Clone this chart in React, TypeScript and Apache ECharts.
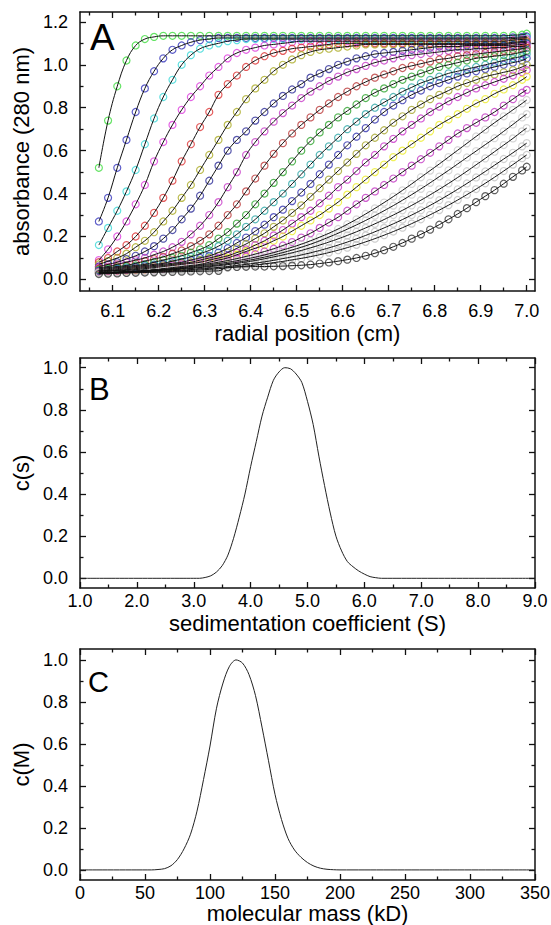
import { useEffect, useRef } from "react";
import * as echarts from "echarts";

const FONT = "'Liberation Sans', Arial, Helvetica, sans-serif";

// ---------- Panel A : radial scans ----------
const R = [
  6.07, 6.09, 6.11, 6.13, 6.15, 6.17, 6.19, 6.21, 6.23, 6.25, 6.27, 6.29,
  6.31, 6.33, 6.35, 6.37, 6.39, 6.41, 6.43, 6.45, 6.47, 6.49, 6.51, 6.53,
  6.55, 6.57, 6.59, 6.61, 6.63, 6.65, 6.67, 6.69, 6.71, 6.73, 6.75, 6.77,
  6.79, 6.81, 6.83, 6.85, 6.87, 6.89, 6.91, 6.93, 6.95, 6.97, 6.99, 7.0,
];

const SCAN01 = [
  0.52, 0.74, 0.9, 1.02, 1.09, 1.12, 1.13, 1.135, 1.135, 1.135, 1.135, 1.135,
  1.135, 1.135, 1.135, 1.135, 1.135, 1.135, 1.135, 1.135, 1.135, 1.135, 1.135, 1.135,
  1.135, 1.135, 1.135, 1.135, 1.135, 1.135, 1.135, 1.135, 1.135, 1.135, 1.135, 1.135,
  1.135, 1.135, 1.135, 1.135, 1.135, 1.135, 1.135, 1.135, 1.135, 1.138, 1.14, 1.145,
];
const SCAN02 = [
  0.27, 0.38, 0.52, 0.65, 0.78, 0.89, 0.97, 1.03, 1.07, 1.09, 1.105, 1.115,
  1.12, 1.125, 1.125, 1.125, 1.125, 1.125, 1.125, 1.125, 1.125, 1.125, 1.125, 1.125,
  1.125, 1.125, 1.125, 1.125, 1.125, 1.125, 1.125, 1.125, 1.125, 1.125, 1.125, 1.125,
  1.125, 1.125, 1.125, 1.125, 1.125, 1.125, 1.125, 1.125, 1.125, 1.128, 1.13, 1.132,
];
const SCAN03 = [
  0.16, 0.24, 0.32, 0.41, 0.51, 0.63, 0.75, 0.85, 0.93, 1.0, 1.045, 1.075,
  1.09, 1.1, 1.11, 1.115, 1.12, 1.12, 1.12, 1.12, 1.12, 1.12, 1.12, 1.12,
  1.12, 1.12, 1.12, 1.12, 1.12, 1.12, 1.12, 1.12, 1.12, 1.12, 1.12, 1.12,
  1.12, 1.12, 1.12, 1.12, 1.12, 1.12, 1.12, 1.12, 1.12, 1.122, 1.125, 1.127,
];
const SCAN04 = [
  0.09, 0.14, 0.2, 0.27, 0.35, 0.44, 0.55, 0.64, 0.72, 0.79, 0.85, 0.9,
  0.95, 0.99, 1.03, 1.055, 1.07, 1.08, 1.09, 1.095, 1.1, 1.105, 1.11, 1.11,
  1.11, 1.11, 1.11, 1.11, 1.11, 1.11, 1.11, 1.11, 1.11, 1.11, 1.11, 1.11,
  1.11, 1.11, 1.11, 1.11, 1.11, 1.11, 1.11, 1.11, 1.11, 1.115, 1.118, 1.12,
];
const SCAN05 = [
  0.08, 0.1, 0.13, 0.16, 0.2, 0.25, 0.31, 0.38, 0.46, 0.55, 0.63, 0.71,
  0.78, 0.86, 0.91, 0.95, 0.99, 1.02, 1.04, 1.055, 1.065, 1.075, 1.08, 1.085,
  1.09, 1.095, 1.1, 1.1, 1.1, 1.1, 1.1, 1.1, 1.1, 1.1, 1.1, 1.1,
  1.1, 1.1, 1.1, 1.1, 1.1, 1.1, 1.1, 1.1, 1.1, 1.105, 1.108, 1.11,
];
const SCAN06 = [
  0.07, 0.085, 0.1, 0.12, 0.15, 0.18, 0.22, 0.27, 0.32, 0.38, 0.44, 0.51,
  0.58, 0.65, 0.72, 0.78, 0.84, 0.89, 0.93, 0.97, 1.0, 1.025, 1.045, 1.06,
  1.07, 1.075, 1.08, 1.085, 1.09, 1.095, 1.095, 1.095, 1.095, 1.095, 1.095, 1.095,
  1.095, 1.095, 1.095, 1.095, 1.095, 1.095, 1.095, 1.095, 1.095, 1.1, 1.103, 1.105,
];
const SCAN07 = [
  0.06, 0.07, 0.08, 0.095, 0.11, 0.13, 0.155, 0.19, 0.23, 0.28, 0.33, 0.39,
  0.46, 0.53, 0.6, 0.65, 0.69, 0.74, 0.78, 0.82, 0.855, 0.885, 0.91, 0.94,
  0.96, 0.98, 1.0, 1.015, 1.03, 1.04, 1.05, 1.055, 1.06, 1.065, 1.07, 1.075,
  1.08, 1.085, 1.085, 1.085, 1.09, 1.09, 1.09, 1.09, 1.09, 1.092, 1.095, 1.1,
];
const SCAN08 = [
  0.055, 0.06, 0.07, 0.08, 0.09, 0.1, 0.115, 0.13, 0.15, 0.175, 0.21, 0.25,
  0.3, 0.36, 0.43, 0.5, 0.58, 0.64, 0.69, 0.735, 0.775, 0.81, 0.845, 0.875,
  0.9, 0.925, 0.945, 0.965, 0.98, 0.995, 1.01, 1.02, 1.03, 1.04, 1.045, 1.05,
  1.055, 1.06, 1.065, 1.07, 1.07, 1.075, 1.075, 1.08, 1.08, 1.085, 1.085, 1.09,
];
const SCAN09 = [
  0.05, 0.055, 0.06, 0.065, 0.075, 0.085, 0.095, 0.105, 0.12, 0.135, 0.155, 0.18,
  0.21, 0.25, 0.3, 0.35, 0.41, 0.47, 0.53, 0.585, 0.635, 0.68, 0.72, 0.755,
  0.79, 0.82, 0.85, 0.875, 0.9, 0.92, 0.94, 0.955, 0.97, 0.985, 0.995, 1.005,
  1.015, 1.025, 1.03, 1.04, 1.045, 1.05, 1.055, 1.06, 1.065, 1.07, 1.075, 1.08,
];
const SCAN10 = [
  0.045, 0.05, 0.055, 0.06, 0.065, 0.07, 0.08, 0.09, 0.1, 0.11, 0.125, 0.14,
  0.16, 0.19, 0.22, 0.26, 0.3, 0.35, 0.4, 0.45, 0.5, 0.55, 0.6, 0.645,
  0.685, 0.72, 0.755, 0.785, 0.815, 0.845, 0.87, 0.89, 0.91, 0.93, 0.945, 0.96,
  0.975, 0.99, 1.0, 1.01, 1.02, 1.03, 1.035, 1.04, 1.045, 1.05, 1.06, 1.065,
];
const SCAN11 = [
  0.04, 0.045, 0.05, 0.055, 0.06, 0.065, 0.07, 0.075, 0.085, 0.095, 0.105, 0.12,
  0.135, 0.155, 0.18, 0.21, 0.245, 0.28, 0.32, 0.36, 0.4, 0.445, 0.49, 0.535,
  0.58, 0.62, 0.66, 0.7, 0.735, 0.77, 0.8, 0.825, 0.85, 0.875, 0.895, 0.915,
  0.93, 0.945, 0.96, 0.97, 0.98, 0.99, 1.0, 1.01, 1.02, 1.03, 1.04, 1.05,
];
const SCAN12 = [
  0.04, 0.042, 0.045, 0.05, 0.055, 0.06, 0.065, 0.07, 0.075, 0.08, 0.09, 0.1,
  0.11, 0.125, 0.145, 0.17, 0.195, 0.225, 0.255, 0.29, 0.325, 0.365, 0.405, 0.445,
  0.49, 0.535, 0.58, 0.625, 0.665, 0.705, 0.745, 0.78, 0.81, 0.835, 0.86, 0.88,
  0.9, 0.915, 0.93, 0.945, 0.96, 0.97, 0.98, 0.99, 1.0, 1.01, 1.02, 1.03,
];
const SCAN13 = [
  0.035, 0.04, 0.042, 0.045, 0.05, 0.055, 0.06, 0.065, 0.07, 0.075, 0.08, 0.09,
  0.1, 0.11, 0.125, 0.145, 0.165, 0.19, 0.215, 0.245, 0.275, 0.31, 0.345, 0.385,
  0.425, 0.465, 0.505, 0.545, 0.585, 0.625, 0.66, 0.695, 0.73, 0.76, 0.79, 0.815,
  0.84, 0.86, 0.88, 0.9, 0.915, 0.93, 0.945, 0.955, 0.965, 0.975, 0.99, 1.0,
];
const SCAN14 = [
  0.035, 0.037, 0.04, 0.042, 0.045, 0.05, 0.055, 0.06, 0.065, 0.07, 0.075, 0.08,
  0.09, 0.1, 0.11, 0.125, 0.14, 0.16, 0.18, 0.205, 0.23, 0.26, 0.29, 0.32,
  0.355, 0.39, 0.43, 0.465, 0.505, 0.545, 0.58, 0.62, 0.655, 0.69, 0.72, 0.75,
  0.78, 0.805, 0.83, 0.85, 0.87, 0.89, 0.905, 0.92, 0.935, 0.95, 0.965, 0.975,
];
const SCAN15 = [
  0.03, 0.032, 0.035, 0.037, 0.04, 0.042, 0.045, 0.05, 0.055, 0.06, 0.065, 0.07,
  0.08, 0.09, 0.1, 0.115, 0.13, 0.145, 0.16, 0.18, 0.2, 0.225, 0.25, 0.275,
  0.3, 0.33, 0.36, 0.395, 0.43, 0.465, 0.5, 0.535, 0.57, 0.6, 0.63, 0.66,
  0.69, 0.72, 0.745, 0.77, 0.795, 0.82, 0.84, 0.865, 0.885, 0.905, 0.93, 0.945,
];
const SCAN16 = [
  0.03, 0.031, 0.033, 0.035, 0.037, 0.04, 0.043, 0.047, 0.051, 0.056, 0.061, 0.067,
  0.073, 0.08, 0.088, 0.097, 0.107, 0.118, 0.13, 0.143, 0.158, 0.174, 0.195, 0.215,
  0.24, 0.265, 0.29, 0.32, 0.35, 0.38, 0.41, 0.44, 0.47, 0.5, 0.53, 0.56,
  0.59, 0.62, 0.65, 0.68, 0.705, 0.73, 0.755, 0.78, 0.81, 0.84, 0.87, 0.883,
];
const SCAN17 = [
  0.03, 0.031, 0.033, 0.035, 0.037, 0.039, 0.042, 0.045, 0.049, 0.053, 0.058, 0.063,
  0.068, 0.074, 0.08, 0.087, 0.095, 0.104, 0.114, 0.125, 0.137, 0.15, 0.164, 0.18,
  0.197, 0.215, 0.235, 0.257, 0.28, 0.305, 0.331, 0.358, 0.386, 0.415, 0.445, 0.476,
  0.507, 0.538, 0.57, 0.602, 0.634, 0.666, 0.698, 0.73, 0.76, 0.79, 0.82, 0.836,
];
const SCAN18 = [
  0.03, 0.031, 0.032, 0.034, 0.036, 0.038, 0.04, 0.043, 0.046, 0.05, 0.054, 0.058,
  0.063, 0.068, 0.074, 0.08, 0.087, 0.095, 0.104, 0.114, 0.125, 0.137, 0.15, 0.164,
  0.18, 0.197, 0.215, 0.234, 0.254, 0.275, 0.297, 0.32, 0.344, 0.369, 0.395, 0.422,
  0.45, 0.479, 0.508, 0.538, 0.568, 0.598, 0.628, 0.658, 0.69, 0.722, 0.755, 0.77,
];
const SCAN19 = [
  0.03, 0.031, 0.032, 0.034, 0.036, 0.038, 0.04, 0.042, 0.045, 0.048, 0.051, 0.055,
  0.059, 0.064, 0.069, 0.075, 0.081, 0.088, 0.096, 0.105, 0.114, 0.124, 0.135, 0.147,
  0.16, 0.174, 0.189, 0.205, 0.222, 0.24, 0.259, 0.279, 0.3, 0.322, 0.345, 0.369,
  0.394, 0.42, 0.447, 0.475, 0.504, 0.534, 0.564, 0.595, 0.626, 0.657, 0.69, 0.705,
];
const SCAN20 = [
  0.03, 0.031, 0.032, 0.033, 0.034, 0.035, 0.037, 0.039, 0.041, 0.043, 0.046, 0.049,
  0.052, 0.056, 0.06, 0.065, 0.07, 0.076, 0.082, 0.089, 0.097, 0.105, 0.114, 0.124,
  0.135, 0.147, 0.16, 0.174, 0.189, 0.205, 0.222, 0.24, 0.259, 0.279, 0.3, 0.322,
  0.345, 0.369, 0.394, 0.42, 0.447, 0.475, 0.503, 0.532, 0.561, 0.59, 0.62, 0.635,
];
const SCAN21 = [
  0.03, 0.03, 0.031, 0.032, 0.033, 0.034, 0.035, 0.036, 0.038, 0.04, 0.042, 0.044,
  0.047, 0.05, 0.054, 0.058, 0.062, 0.067, 0.072, 0.078, 0.084, 0.091, 0.098, 0.106,
  0.115, 0.125, 0.136, 0.148, 0.161, 0.175, 0.19, 0.206, 0.223, 0.241, 0.26, 0.28,
  0.301, 0.323, 0.346, 0.37, 0.395, 0.421, 0.448, 0.476, 0.505, 0.535, 0.565, 0.58,
];
const SCAN22 = [
  0.025, 0.027, 0.028, 0.03, 0.031, 0.032, 0.033, 0.034, 0.035, 0.036, 0.037, 0.038,
  0.039, 0.04, 0.057, 0.058, 0.059, 0.06, 0.06, 0.061, 0.062, 0.064, 0.066, 0.069,
  0.074, 0.079, 0.085, 0.092, 0.1, 0.11, 0.122, 0.136, 0.152, 0.17, 0.19, 0.21,
  0.232, 0.255, 0.28, 0.305, 0.332, 0.36, 0.388, 0.416, 0.446, 0.478, 0.508, 0.525,
];

const SCANS = [
  SCAN01, SCAN02, SCAN03, SCAN04, SCAN05, SCAN06, SCAN07, SCAN08, SCAN09, SCAN10, SCAN11,
  SCAN12, SCAN13, SCAN14, SCAN15, SCAN16, SCAN17, SCAN18, SCAN19, SCAN20, SCAN21, SCAN22,
];
const SCAN_COLORS = [
  "#3fdc3f", "#3434bb", "#3ad8d8", "#dd3ddd", "#dd3535", "#abab25", "#2e2e99", "#c83cc8",
  "#bb3a3a", "#2fa52f", "#2fa8a8", "#3535b0", "#a8a830", "#cc3acc", "#eeee30", "#c33ac3",
  "#cdcdcd", "#d0d0d0", "#cacaca", "#c6c6c6", "#c2c2c2", "#3a3a3a",
];

// ---------- Panel B : c(s) ----------
const S_VALUES = [
  1.0, 3.0, 3.1, 3.2, 3.3, 3.4, 3.5, 3.6, 3.7, 3.8, 3.9, 4.0, 4.1, 4.2, 4.3, 4.4, 4.5,
  4.6, 4.7, 4.8, 4.9, 5.0, 5.1, 5.2, 5.3, 5.4, 5.5, 5.6, 5.7, 5.8, 5.9, 6.0, 6.1, 6.2,
  6.3, 6.5, 9.0,
];
const CS_VALUES = [
  0.0, 0.0, 0.0, 0.004, 0.012, 0.03, 0.06, 0.11, 0.19, 0.29, 0.4, 0.53, 0.65, 0.77, 0.86,
  0.94, 0.98, 1.0, 0.995, 0.97, 0.93, 0.84, 0.73, 0.58, 0.44, 0.31, 0.2, 0.13, 0.08, 0.055,
  0.035, 0.02, 0.008, 0.003, 0.0, 0.0, 0.0,
];

// ---------- Panel C : c(M) ----------
const M_VALUES = [
  0, 55, 60, 65, 70, 75, 80, 85, 90, 95, 100, 105, 110, 115, 120, 125, 130, 135, 140,
  145, 150, 155, 160, 165, 170, 175, 180, 185, 190, 195, 200, 210, 350,
];
const CM_VALUES = [
  0.0, 0.0, 0.002, 0.006, 0.02, 0.05, 0.1, 0.17, 0.28, 0.43, 0.59, 0.77, 0.89, 0.97, 1.0,
  0.985, 0.93, 0.83, 0.68, 0.52, 0.36, 0.24, 0.15, 0.095, 0.06, 0.035, 0.018, 0.008,
  0.003, 0.001, 0.0, 0.0, 0.0,
];

// ---------- ticks ----------
const A_X_TICKS = [6.1, 6.2, 6.3, 6.4, 6.5, 6.6, 6.7, 6.8, 6.9, 7.0];
const A_X_MINOR = [6.05, 6.15, 6.25, 6.35, 6.45, 6.55, 6.65, 6.75, 6.85, 6.95];
const A_Y_TICKS = [0, 0.2, 0.4, 0.6, 0.8, 1.0, 1.2];
const A_Y_MINOR = [0.1, 0.3, 0.5, 0.7, 0.9, 1.1];
const B_X_TICKS = [1, 2, 3, 4, 5, 6, 7, 8, 9];
const B_X_MINOR = [1.5, 2.5, 3.5, 4.5, 5.5, 6.5, 7.5, 8.5];
const C_X_TICKS = [0, 50, 100, 150, 200, 250, 300, 350];
const C_X_MINOR = [25, 75, 125, 175, 225, 275, 325];
const UNIT_Y_TICKS = [0, 0.2, 0.4, 0.6, 0.8, 1.0];
const UNIT_Y_MINOR = [0.1, 0.3, 0.5, 0.7, 0.9];

const f1 = (v: number) => v.toFixed(1);
const f0 = (v: number) => String(Math.round(v));

type AxisSpec = {
  min: number;
  max: number;
  major: number[];
  minor: number[];
  fmt: (v: number) => string;
  name: string;
  margin: number;
  nameGap: number;
};

const LINE = { color: "#111", width: 1.5 };

function makeAxes(dim: "x" | "y", g: number, s: AxisSpec) {
  const sides = dim === "x" ? ["bottom", "top"] : ["left", "right"];
  const out: any[] = [];
  sides.forEach((pos, si) => {
    [true, false].forEach((isMajor) => {
      const main = si === 0 && isMajor;
      out.push({
        type: "value",
        gridIndex: g,
        position: pos,
        min: s.min,
        max: s.max,
        splitLine: { show: false },
        axisLine: { show: isMajor, onZero: false, lineStyle: LINE },
        axisTick: {
          show: true,
          inside: true,
          length: isMajor ? 6 : 3.5,
          lineStyle: { color: "#111", width: 1.3 },
          customValues: isMajor ? s.major : s.minor,
        },
        axisLabel: main
          ? {
              show: true,
              customValues: s.major,
              formatter: s.fmt,
              color: "#000",
              fontSize: 18,
              fontFamily: FONT,
              margin: s.margin,
            }
          : { show: false },
        name: main ? s.name : "",
        nameLocation: "middle",
        nameGap: s.nameGap,
        nameTextStyle: { color: "#000", fontSize: 22, fontFamily: FONT },
        silent: true,
      });
    });
  });
  return out;
}

export default function App() {
  const ref = useRef<HTMLDivElement>(null);

  useEffect(() => {
    if (!ref.current) return;
    const chart = echarts.init(ref.current, undefined, { renderer: "svg" });

    const xAxes = [
      ...makeAxes("x", 0, {
        min: 6.029, max: 7.018, major: A_X_TICKS, minor: A_X_MINOR, fmt: f1,
        name: "radial position (cm)", margin: 11, nameGap: 31,
      }),
      ...makeAxes("x", 1, {
        min: 1, max: 9, major: B_X_TICKS, minor: B_X_MINOR, fmt: f1,
        name: "sedimentation coefficient (S)", margin: 4, nameGap: 24,
      }),
      ...makeAxes("x", 2, {
        min: 0, max: 350, major: C_X_TICKS, minor: C_X_MINOR, fmt: f0,
        name: "molecular mass (kD)", margin: 4, nameGap: 20,
      }),
    ];
    const yAxes = [
      ...makeAxes("y", 0, {
        min: -0.054, max: 1.246, major: A_Y_TICKS, minor: A_Y_MINOR, fmt: f1,
        name: "absorbance (280 nm)", margin: 12, nameGap: 44,
      }),
      ...makeAxes("y", 1, {
        min: -0.046, max: 1.046, major: UNIT_Y_TICKS, minor: UNIT_Y_MINOR, fmt: f1,
        name: "c(s)", margin: 12, nameGap: 44,
      }),
      ...makeAxes("y", 2, {
        min: -0.048, max: 1.052, major: UNIT_Y_TICKS, minor: UNIT_Y_MINOR, fmt: f1,
        name: "c(M)", margin: 12, nameGap: 44,
      }),
    ];

    const series: any[] = [];
    SCANS.forEach((scan, k) => {
      series.push({
        type: "scatter",
        xAxisIndex: 0,
        yAxisIndex: 0,
        data: R.map((r, i) => [r, scan[i]]),
        symbol: "circle",
        symbolSize: 7,
        itemStyle: {
          color: "rgba(255,255,255,0)",
          borderColor: SCAN_COLORS[k],
          borderWidth: 1.2,
        },
        z: 2,
        silent: true,
      });
    });
    SCANS.forEach((scan) => {
      series.push({
        type: "line",
        xAxisIndex: 0,
        yAxisIndex: 0,
        data: R.map((r, i) => [r, scan[i]]),
        showSymbol: false,
        smooth: 0.4,
        lineStyle: { color: "#111", width: 1 },
        z: 3,
        silent: true,
      });
    });
    series.push({
      type: "line",
      xAxisIndex: 4,
      yAxisIndex: 4,
      data: S_VALUES.map((s, i) => [s, CS_VALUES[i]]),
      showSymbol: false,
      smooth: 0.3,
      lineStyle: { color: "#222", width: 1 },
      silent: true,
    });
    series.push({
      type: "line",
      xAxisIndex: 8,
      yAxisIndex: 8,
      data: M_VALUES.map((m, i) => [m, CM_VALUES[i]]),
      showSymbol: false,
      smooth: 0.3,
      lineStyle: { color: "#222", width: 1 },
      silent: true,
    });

    const letter = (t: string, x: number, y: number, size: number) => ({
      type: "text",
      x,
      y,
      z: 10,
      style: {
        text: t,
        fill: "#000",
        fontSize: size,
        fontFamily: FONT,
        align: "left",
        verticalAlign: "middle",
      },
    });

    chart.setOption({
      animation: false,
      backgroundColor: "#fff",
      grid: [
        { left: 80, top: 12, width: 455, height: 279, outerBoundsMode: "none" },
        { left: 80, top: 358, width: 455, height: 230, outerBoundsMode: "none" },
        { left: 80, top: 649, width: 455, height: 231, outerBoundsMode: "none" },
      ],
      xAxis: xAxes,
      yAxis: yAxes,
      series,
      graphic: [
        letter("A", 90, 37, 37),
        letter("B", 89, 389, 31),
        letter("C", 88, 682, 29),
      ],
    });

    return () => chart.dispose();
  }, []);

  return (
    <div
      ref={ref}
      style={{ position: "fixed", left: 0, top: 0, width: 551, height: 925, background: "#fff" }}
    />
  );
}
